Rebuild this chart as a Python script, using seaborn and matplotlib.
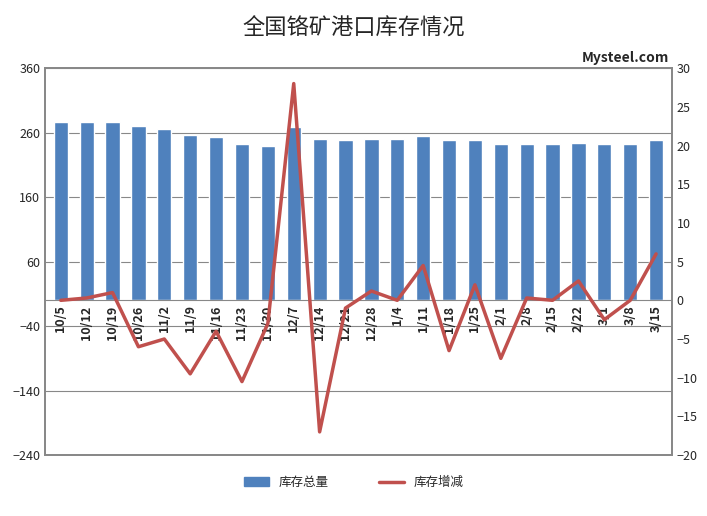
import matplotlib
matplotlib.use("Agg")
import matplotlib.pyplot as plt
import seaborn as sns
import pandas as pd
from matplotlib.patches import Patch
from matplotlib.lines import Line2D

plt.rcParams["font.family"] = ["Noto Sans CJK SC", "DejaVu Sans"]
sns.set_theme(style="white", rc={"font.family": ["Noto Sans CJK SC", "DejaVu Sans"]})

dates = ["10/5", "10/12", "10/19", "10/26", "11/2", "11/9", "11/16", "11/23", "11/30", "12/7",
         "12/14", "12/21", "12/28", "1/4", "1/11", "1/18", "1/25", "2/1", "2/8", "2/15",
         "2/22", "3/1", "3/8", "3/15"]
stock = [276, 276, 277, 271, 266, 257, 253, 242, 239, 268, 250, 248, 250, 250, 255, 248,
         249, 242, 242, 242, 244, 242, 242, 248]
change = [0, 0.3, 1, -6, -5, -9.5, -4, -10.5, -3, 28, -17, -1, 1.2, 0, 4.5, -6.5, 2, -7.5,
          0.3, 0, 2.5, -2.5, 0, 6]

df = pd.DataFrame({"date": dates, "stock": stock, "change": change})
bar_c = "#4f81bd"
line_c = "#c0504d"

fig = plt.figure(figsize=(7.07, 5.16), dpi=100)
ax = fig.add_axes([0.064, 0.118, 0.886, 0.75])
sns.barplot(data=df, x="date", y="stock", color=bar_c, width=0.55, saturation=1, ax=ax)
ax.set_ylim(-240, 360)
ax.set_yticks(range(-240, 361, 100))
ax.yaxis.grid(True, color="#888888", linewidth=0.8)
ax.set_axisbelow(True)
ax.set_xlabel("")
ax.set_ylabel("")
ax.tick_params(axis="y", labelsize=9, length=0)
ax.set_xticks(range(len(dates)))
ax.set_xticklabels([])
ax.tick_params(axis="x", length=0)
ax.axhline(0, color="#888888", linewidth=0.8)
for i, d in enumerate(dates):
    ax.text(i, -8, d, rotation=90, ha="center", va="top", fontsize=9, fontweight="bold")
for s in ax.spines.values():
    s.set_color("#888888")

ax2 = ax.twinx()
ax2.plot(range(len(dates)), change, color=line_c, linewidth=2.5)
ax2.set_ylim(-20, 30)
ax2.set_yticks(range(-20, 31, 5))
ax2.tick_params(axis="y", labelsize=9, length=0)
ax2.grid(False)
for s in ax2.spines.values():
    s.set_color("#888888")
ax.set_xlim(-0.6, len(dates) - 0.4)

fig.text(0.5, 0.945, "全国铬矿港口库存情况", ha="center", va="center", fontsize=16)
fig.text(0.885, 0.88, "Mysteel.com", ha="center", fontsize=10, fontweight="bold")
fig.legend(handles=[Patch(color=bar_c, label="库存总量"),
                    Line2D([], [], color=line_c, linewidth=2.5, label="库存增减")],
           loc="center", bbox_to_anchor=(0.5, 0.065), ncol=2, frameon=False, fontsize=9,
           columnspacing=4)
fig.savefig("out.png", dpi=100)
